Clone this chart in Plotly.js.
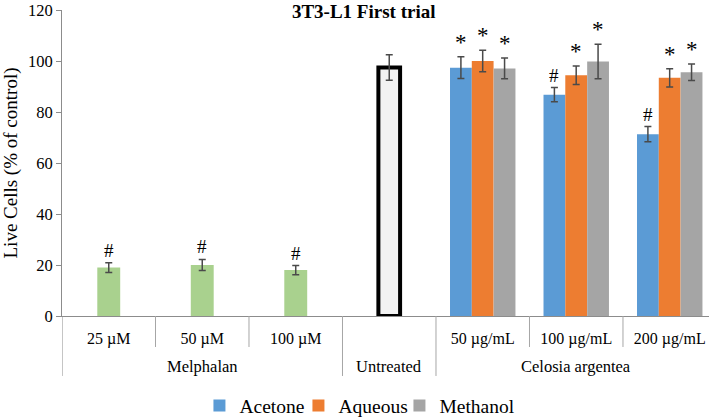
<!DOCTYPE html>
<html>
<head>
<meta charset="utf-8">
<script src="https://cdn.plot.ly/plotly-3.0.1.min.js"></script>
<style>html,body{margin:0;padding:0;background:#fff;}#chart{width:709px;height:420px;}</style>
</head>
<body>
<div id="chart"></div>
<script>
// ---- data ----
var subLabels = ['25 µM', '50 µM', '100 µM', '', '50 µg/mL', '100 µg/mL', '200 µg/mL'];
var groupNames = ['Melphalan', 'Untreated', 'Celosia argentea'];
var groupStart = [0, 3, 4];
var groupEnd = [2, 3, 6];

var melphalanIdx = [0, 1, 2];
var melphalanVals = [19, 20, 18];
var melphalanErr = [1.9, 2.2, 1.8];
var melphalanMarks = ['#', '#', '#'];

var untreatedIdx = [3];
var untreatedVals = [97.5];
var untreatedErr = [5];

var celosiaIdx = [4, 5, 6];
var acetoneVals = [97.4, 86.8, 71.3];
var acetoneErr = [4.3, 2.8, 3.0];
var acetoneMarks = ['*', '#', '#'];
var aqueousVals = [100, 94.4, 93.4];
var aqueousErr = [4.2, 3.6, 3.6];
var aqueousMarks = ['*', '*', '*'];
var methanolVals = [97.1, 99.8, 95.6];
var methanolErr = [4.1, 6.8, 3.2];
var methanolMarks = ['*', '*', '*'];

var yTicks = [0, 20, 40, 60, 80, 100, 120];

// ---- styles ----
var FONT = 'Liberation Serif, serif';
var ERRC = '#4a4a4a';
var AXC = '#8c8c8c';
var SEPC = '#a6a6a6';

function errY(arr) {
  return {type: 'data', array: arr, visible: true, color: ERRC, thickness: 1.5, width: 3.5};
}

var BW = 0.233;
var traces = [
  {type: 'bar', x: melphalanIdx, y: melphalanVals, width: 0.245, marker: {color: '#A9D18E'},
   error_y: errY(melphalanErr), showlegend: false, name: 'Melphalan', hoverinfo: 'y'},
  {type: 'bar', x: untreatedIdx, y: untreatedVals, width: 0.232, marker: {color: '#F2F2F2', line: {color: '#000', width: 4}},
   error_y: errY(untreatedErr), showlegend: false, name: 'Untreated', hoverinfo: 'y'},
  {type: 'bar', x: celosiaIdx, y: acetoneVals, width: BW, offset: -0.35, marker: {color: '#5B9BD5'},
   error_y: errY(acetoneErr), name: 'Acetone', legendwidth: 54},
  {type: 'bar', x: celosiaIdx, y: aqueousVals, width: BW, offset: -0.117, marker: {color: '#ED7D31'},
   error_y: errY(aqueousErr), name: 'Aqueous', legendwidth: 56},
  {type: 'bar', x: celosiaIdx, y: methanolVals, width: BW, offset: 0.117, marker: {color: '#A5A5A5'},
   error_y: errY(methanolErr), name: 'Methanol', legendwidth: 76}
];

var annotations = [];
function addMarks(xs, vals, errs, marks, dx) {
  for (var i = 0; i < xs.length; i++) {
    if (!marks[i]) continue;
    var star = marks[i] === '*';
    annotations.push({
      x: xs[i] + dx, y: vals[i] + errs[i], xref: 'x', yref: 'y',
      text: marks[i], showarrow: false, yanchor: 'bottom',
      yshift: 0,
      font: {family: FONT, size: star ? 23 : 19, color: '#000'}
    });
  }
}
addMarks(melphalanIdx, melphalanVals, melphalanErr, melphalanMarks, 0);
addMarks(celosiaIdx, acetoneVals, acetoneErr, acetoneMarks, -0.35 + BW / 2);
addMarks(celosiaIdx, aqueousVals, aqueousErr, aqueousMarks, -0.117 + BW / 2);
addMarks(celosiaIdx, methanolVals, methanolErr, methanolMarks, 0.117 + BW / 2);

// group labels
for (var g = 0; g < groupNames.length; g++) {
  annotations.push({
    x: (groupStart[g] + groupEnd[g]) / 2, y: -0.1634, xref: 'x', yref: 'paper',
    text: groupNames[g], showarrow: false, yanchor: 'middle',
    font: {family: FONT, size: 16.5, color: '#000'}
  });
}

// separators
var shapes = [];
var groupBounds = {};
for (var g2 = 0; g2 < groupNames.length; g2++) {
  groupBounds[groupStart[g2] - 0.5] = true;
}
for (var k = 0; k < subLabels.length; k++) {
  var bx = k - 0.5;
  var long = !!groupBounds[bx];
  shapes.push({type: 'line', xref: 'x', yref: 'paper', x0: bx, x1: bx, y0: 0, y1: long ? -0.196 : -0.1013,
    line: {color: k === 0 ? AXC : SEPC, width: 1}});
}

var layout = {
  width: 709, height: 420,
  margin: {l: 62, r: 0, t: 10, b: 104},
  paper_bgcolor: '#fff', plot_bgcolor: '#fff',
  barmode: 'overlay',
  font: {family: FONT, size: 16, color: '#000'},
  title: {text: '<b>3T3-L1 First trial</b>', font: {family: FONT, size: 19, color: '#000'},
    xref: 'container', yref: 'container', x: 0.513, xanchor: 'center', y: 0.973, yanchor: 'middle'},
  xaxis: {
    type: 'linear', range: [-0.5, 6.42], tickvals: subLabels.map(function (s, i) { return i; }),
    ticktext: subLabels, ticks: '', showgrid: false, zeroline: false, ticklabelstandoff: 8,
    showline: true, linecolor: AXC, linewidth: 1, tickfont: {family: FONT, size: 16, color: '#000'},
    fixedrange: true
  },
  yaxis: {
    range: [0, 120], tickvals: yTicks, ticks: 'outside', ticklen: 5, tickcolor: AXC,
    showgrid: false, zeroline: false, showline: true, linecolor: AXC, linewidth: 1,
    ticklabeloverflow: 'allow',
    tickfont: {family: FONT, size: 16.5, color: '#000'},
    title: {text: 'Live Cells (% of control)', font: {family: FONT, size: 19, color: '#000'}, standoff: 6},
    fixedrange: true
  },
  showlegend: true,
  legend: {orientation: 'h', xref: 'container', yref: 'container', x: 0.2813, xanchor: 'left',
    y: 0.034, yanchor: 'middle', font: {family: FONT, size: 19.5, color: '#000'}, bgcolor: 'rgba(0,0,0,0)',
    itemwidth: 30, tracegroupgap: 0},
  annotations: annotations,
  shapes: shapes
};

Plotly.newPlot('chart', traces, layout, {displayModeBar: false, staticPlot: true});
</script>
</body>
</html>
